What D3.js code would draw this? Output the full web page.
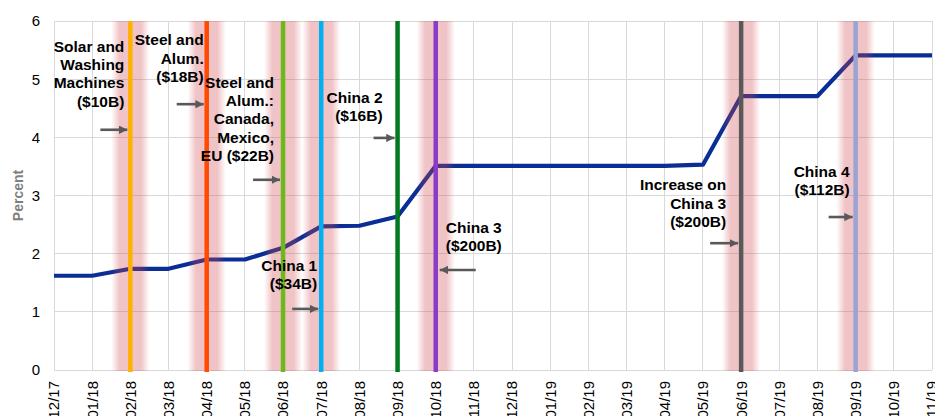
<!DOCTYPE html>
<html>
<head>
<meta charset="utf-8">
<script src="https://cdn.jsdelivr.net/npm/d3@7"></script>
<style>
  html, body { margin: 0; padding: 0; background: #fff; }
  svg { display: block; font-family: "Liberation Sans", Arial, sans-serif; }
</style>
</head>
<body>
<svg id="chart" width="935" height="416"></svg>
<script>
// ---- Data ----
const months = ["12/17","01/18","02/18","03/18","04/18","05/18","06/18","07/18","08/18","09/18","10/18","11/18",
                "12/18","01/19","02/19","03/19","04/19","05/19","06/19","07/19","08/19","09/19","10/19","11/19"];
const tariffRate = [1.62,1.62,1.74,1.74,1.90,1.90,2.10,2.47,2.48,2.64,3.51,3.51,
                    3.51,3.51,3.51,3.51,3.51,3.53,4.71,4.71,4.71,5.41,5.41,5.41];
const yTicks = [0,1,2,3,4,5,6];
const eventMonths = ["02/18","04/18","06/18","07/18","09/18","10/18","06/19","09/19"];
const eventLabels = [
  ["Solar and","Washing","Machines","($10B)"],
  ["Steel and","Alum.","($18B)"],
  ["Steel and","Alum.:","Canada,","Mexico,","EU ($22B)"],
  ["China 1","($34B)"],
  ["China 2","($16B)"],
  ["China 3","($200B)"],
  ["Increase on","China 3","($200B)"],
  ["China 4","($112B)"]
];
const eventHasGlow = [true,true,true,true,false,true,true,true];

// ---- Styles / layout ----
const eventColors = ["#FFB000","#FF4A00","#6BBA1A","#00B0F0","#007A21","#8A3CC8","#595959","#99A3D4"];
const labelLayout = [
  {dx:-6,  anchor:"end",   base:5.47, arrowY:4.13, ax1:-30, ax2:-3},
  {dx:-3,  anchor:"end",   base:5.58, arrowY:4.57, ax1:-30, ax2:-3},
  {dx:-9,  anchor:"end",   base:4.85, arrowY:3.27, ax1:-30, ax2:-3},
  {dx:-4,  anchor:"end",   base:1.70, arrowY:1.05, ax1:-29, ax2:-3},
  {dx:-15, anchor:"end",   base:4.59, arrowY:3.99, ax1:-24, ax2:-3},
  {dx:10,  anchor:"start", base:2.36, arrowY:1.72, ax1:40,  ax2:4},
  {dx:-15, anchor:"end",   base:3.09, arrowY:2.18, ax1:-31, ax2:-3},
  {dx:-6,  anchor:"end",   base:3.32, arrowY:2.63, ax1:-27, ax2:-3}
];

const PL = 54, PR = 932, PT = 21, PB = 370;

const svg = d3.select("#chart");
const x = d3.scalePoint().domain(months).range([PL, PR]).padding(0);
const y = d3.scaleLinear().domain([0, 6]).range([PB, PT]);

const defs = svg.append("defs");
const grad = defs.append("linearGradient").attr("id","glow").attr("x1","0%").attr("x2","100%").attr("y1","0%").attr("y2","0%");
[[0,0],[0.22,1],[0.5,1],[0.78,1],[1,0]].forEach(([o,a]) =>
  grad.append("stop").attr("offset", o).attr("stop-color", "#d0444c").attr("stop-opacity", a*0.32));

defs.append("marker").attr("id","arrow").attr("viewBox","0 0 10 10")
  .attr("refX", 10).attr("refY", 5).attr("markerWidth", 3.2).attr("markerHeight", 3.2)
  .attr("markerUnits","strokeWidth").attr("orient","auto")
  .append("path").attr("d","M0,0 L10,5 L0,10 Z").attr("fill","#595959");

// gridlines
const grid = svg.append("g");
grid.selectAll("line.v").data(months).join("line")
  .attr("x1", d => x(d)).attr("x2", d => x(d)).attr("y1", PT).attr("y2", PB)
  .attr("stroke", "#d9d9d9").attr("stroke-width", 1).attr("shape-rendering","crispEdges");
grid.selectAll("line.h").data(yTicks).join("line")
  .attr("x1", PL).attr("x2", PR).attr("y1", d => y(d)).attr("y2", d => y(d))
  .attr("stroke", "#d9d9d9").attr("stroke-width", 1).attr("shape-rendering","crispEdges");

// y axis labels
svg.append("g").selectAll("text").data(yTicks).join("text")
  .attr("x", 40).attr("y", d => y(d)).attr("dy", "0.36em")
  .attr("text-anchor", "end").attr("font-size", 15).attr("fill", "#000")
  .text(d => d);

svg.append("text")
  .attr("transform", `translate(23,${(PT+PB)/2}) rotate(-90)`)
  .attr("text-anchor","middle").attr("font-size", 14).attr("font-weight","bold").attr("fill","#7f7f7f")
  .text("Percent");

// x axis labels
svg.append("g").selectAll("text").data(months).join("text")
  .attr("transform", d => `translate(${x(d)},381) rotate(-90)`)
  .attr("dy","0.36em").attr("text-anchor","end").attr("font-size", 15).attr("fill","#000")
  .text(d => d);

// data line
const line = d3.line().x((d,i) => x(months[i])).y(d => y(d));
svg.append("path").datum(tariffRate)
  .attr("d", line).attr("fill","none").attr("stroke","#0a2e96").attr("stroke-width", 4.2)
  .attr("stroke-linejoin","round");

// glow bands
svg.append("g").selectAll("rect").data(eventMonths.filter((m,i) => eventHasGlow[i])).join("rect")
  .attr("x", d => x(d) - 19).attr("width", 38).attr("y", PT).attr("height", PB - PT + 1)
  .attr("fill", "url(#glow)");

// event lines
svg.append("g").selectAll("line").data(eventMonths).join("line")
  .attr("x1", d => x(d)).attr("x2", d => x(d)).attr("y1", PT).attr("y2", PB + 2)
  .attr("stroke", (d,i) => eventColors[i]).attr("stroke-width", 4.5);

// annotations
const ann = svg.append("g");
eventMonths.forEach((m, i) => {
  const L = labelLayout[i];
  const t = ann.append("text")
    .attr("x", x(m) + L.dx).attr("y", y(L.base))
    .attr("text-anchor", L.anchor).attr("font-size", 15.5).attr("font-weight","bold").attr("fill","#000");
  eventLabels[i].forEach((s, k) => {
    t.append("tspan").attr("x", x(m) + L.dx).attr("dy", k === 0 ? 0 : 18.3).text(s);
  });
  ann.append("line")
    .attr("x1", x(m) + L.ax1).attr("x2", x(m) + L.ax2)
    .attr("y1", y(L.arrowY)).attr("y2", y(L.arrowY))
    .attr("stroke","#595959").attr("stroke-width", 2.6)
    .attr("marker-end","url(#arrow)");
});
</script>
</body>
</html>
